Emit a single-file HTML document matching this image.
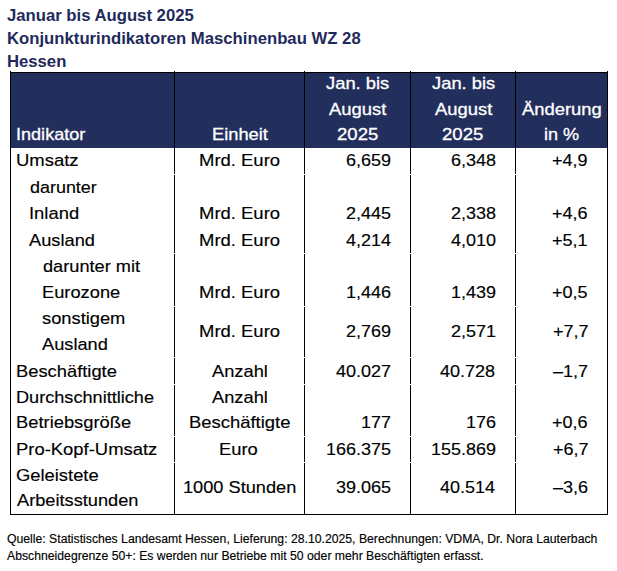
<!DOCTYPE html>
<html lang="de">
<head>
<meta charset="utf-8">
<title>Konjunkturindikatoren Maschinenbau WZ 28 Hessen</title>
<style>
html,body{margin:0;padding:0;background:#fff;}
body{width:617px;height:571px;position:relative;overflow:hidden;font-family:"Liberation Sans",sans-serif;color:#000;}
.x{position:absolute;white-space:nowrap;line-height:20px;transform-origin:0 0;}
.t{font-weight:bold;font-size:16px;color:#1f2a5c;}
.h{font-size:17px;color:#fff;-webkit-text-stroke:0.3px #fff;}
.c{font-size:17px;color:#000;-webkit-text-stroke:0.15px #000;}
.f{font-size:12px;color:#000;-webkit-text-stroke:0.15px #000;}
.hd{position:absolute;left:10px;top:72px;width:598px;height:76px;background:#222e5c;}
.vl{position:absolute;top:71px;width:1px;height:444px;background:#000;}
.hl{position:absolute;left:10px;width:598px;height:1px;background:#000;}
.g{position:absolute;left:11px;width:596px;height:1px;background:#fff;}

</style>
</head>
<body>
<div class="hd"></div>
<div class="vl" style="left:10px"></div>
<div class="vl" style="left:174px"></div>
<div class="vl" style="left:304px"></div>
<div class="vl" style="left:410px"></div>
<div class="vl" style="left:515px"></div>
<div class="vl" style="left:607px"></div>
<div class="g" style="top:174px"></div>
<div class="g" style="top:253px"></div>
<div class="g" style="top:306px"></div>
<div class="g" style="top:357px"></div>
<div class="g" style="top:384px"></div>
<div class="g" style="top:436px"></div>
<div class="g" style="top:462px"></div>
<div class="hl" style="top:72px"></div>
<div class="hl" style="top:514px"></div>
<div class="x t" id="i0" style="left:7.34px;top:6.00px;transform:scaleX(1.0430);">Januar bis August 2025</div>
<div class="x t" id="i1" style="left:6.86px;top:29.00px;transform:scaleX(1.0443);">Konjunkturindikatoren Maschinenbau WZ 28</div>
<div class="x t" id="i2" style="left:6.86px;top:52.00px;transform:scaleX(1.0424);">Hessen</div>
<div class="x h" id="i3" style="left:16.22px;top:125.00px;transform:scaleX(1.0627);">Indikator</div>
<div class="x h" id="i4" style="left:211.69px;top:125.00px;transform:scaleX(1.0757);">Einheit</div>
<div class="x h" id="i5" style="left:326.45px;top:74.00px;transform:scaleX(1.0799);">Jan. bis</div>
<div class="x h" id="i6" style="left:329.13px;top:100.00px;transform:scaleX(1.0829);">August</div>
<div class="x h" id="i7" style="left:336.98px;top:125.00px;transform:scaleX(1.0911);">2025</div>
<div class="x h" id="i8" style="left:431.95px;top:74.00px;transform:scaleX(1.0799);">Jan. bis</div>
<div class="x h" id="i9" style="left:434.63px;top:100.00px;transform:scaleX(1.0829);">August</div>
<div class="x h" id="i10" style="left:442.48px;top:125.00px;transform:scaleX(1.0911);">2025</div>
<div class="x h" id="i11" style="left:521.63px;top:100.00px;transform:scaleX(1.0816);">Änderung</div>
<div class="x h" id="i12" style="left:543.52px;top:125.00px;transform:scaleX(1.0638);">in %</div>
<div class="x c" id="i13" style="left:16.02px;top:151.00px;transform:scaleX(1.0866);">Umsatz</div>
<div class="x c" id="i14" style="left:29.81px;top:178.00px;transform:scaleX(1.0545);">darunter</div>
<div class="x c" id="i15" style="left:29.29px;top:204.00px;transform:scaleX(1.0829);">Inland</div>
<div class="x c" id="i16" style="left:29.33px;top:231.00px;transform:scaleX(1.0734);">Ausland</div>
<div class="x c" id="i17" style="left:42.60px;top:257.00px;transform:scaleX(1.0706);">darunter mit</div>
<div class="x c" id="i18" style="left:42.19px;top:283.00px;transform:scaleX(1.0746);">Eurozone</div>
<div class="x c" id="i19" style="left:41.88px;top:309.00px;transform:scaleX(1.0759);">sonstigem</div>
<div class="x c" id="i20" style="left:42.13px;top:335.00px;transform:scaleX(1.0718);">Ausland</div>
<div class="x c" id="i21" style="left:16.39px;top:362.00px;transform:scaleX(1.0781);">Beschäftigte</div>
<div class="x c" id="i22" style="left:16.40px;top:388.00px;transform:scaleX(1.0662);">Durchschnittliche</div>
<div class="x c" id="i23" style="left:16.38px;top:413.00px;transform:scaleX(1.0790);">Betriebsgröße</div>
<div class="x c" id="i24" style="left:16.38px;top:440.00px;transform:scaleX(1.0839);">Pro-Kopf-Umsatz</div>
<div class="x c" id="i25" style="left:16.18px;top:466.00px;transform:scaleX(1.0799);">Geleistete</div>
<div class="x c" id="i26" style="left:16.63px;top:491.00px;transform:scaleX(1.0714);">Arbeitsstunden</div>
<div class="x c" id="i27" style="left:199.08px;top:151.00px;transform:scaleX(1.0861);">Mrd. Euro</div>
<div class="x c" id="i28" style="left:199.08px;top:204.00px;transform:scaleX(1.0861);">Mrd. Euro</div>
<div class="x c" id="i29" style="left:199.08px;top:231.00px;transform:scaleX(1.0861);">Mrd. Euro</div>
<div class="x c" id="i30" style="left:199.08px;top:283.00px;transform:scaleX(1.0861);">Mrd. Euro</div>
<div class="x c" id="i31" style="left:199.08px;top:322.00px;transform:scaleX(1.0861);">Mrd. Euro</div>
<div class="x c" id="i32" style="left:211.83px;top:362.00px;transform:scaleX(1.0755);">Anzahl</div>
<div class="x c" id="i33" style="left:211.83px;top:388.00px;transform:scaleX(1.0755);">Anzahl</div>
<div class="x c" id="i34" style="left:188.58px;top:413.00px;transform:scaleX(1.0835);">Beschäftigte</div>
<div class="x c" id="i35" style="left:219.48px;top:440.00px;transform:scaleX(1.0799);">Euro</div>
<div class="x c" id="i36" style="left:183.24px;top:478.00px;transform:scaleX(1.0700);">1000 Stunden</div>
<div class="x c" id="i37" style="left:346.24px;top:151.00px;transform:scaleX(1.0600);">6,659</div>
<div class="x c" id="i38" style="left:450.71px;top:151.00px;transform:scaleX(1.0600);">6,348</div>
<div class="x c" id="i39" style="left:552.48px;top:151.00px;transform:scaleX(1.0600);">+4,9</div>
<div class="x c" id="i40" style="left:346.21px;top:204.00px;transform:scaleX(1.0600);">2,445</div>
<div class="x c" id="i41" style="left:450.71px;top:204.00px;transform:scaleX(1.0600);">2,338</div>
<div class="x c" id="i42" style="left:552.47px;top:204.00px;transform:scaleX(1.0600);">+4,6</div>
<div class="x c" id="i43" style="left:346.13px;top:231.00px;transform:scaleX(1.0600);">4,214</div>
<div class="x c" id="i44" style="left:450.69px;top:231.00px;transform:scaleX(1.0600);">4,010</div>
<div class="x c" id="i45" style="left:552.48px;top:231.00px;transform:scaleX(1.0600);">+5,1</div>
<div class="x c" id="i46" style="left:346.23px;top:283.00px;transform:scaleX(1.0600);">1,446</div>
<div class="x c" id="i47" style="left:450.74px;top:283.00px;transform:scaleX(1.0600);">1,439</div>
<div class="x c" id="i48" style="left:552.45px;top:283.00px;transform:scaleX(1.0600);">+0,5</div>
<div class="x c" id="i49" style="left:346.24px;top:322.00px;transform:scaleX(1.0600);">2,769</div>
<div class="x c" id="i50" style="left:450.74px;top:322.00px;transform:scaleX(1.0600);">2,571</div>
<div class="x c" id="i51" style="left:552.50px;top:322.00px;transform:scaleX(1.0600);">+7,7</div>
<div class="x c" id="i52" style="left:335.88px;top:362.00px;transform:scaleX(1.0600);">40.027</div>
<div class="x c" id="i53" style="left:440.34px;top:362.00px;transform:scaleX(1.0600);">40.728</div>
<div class="x c" id="i54" style="left:552.62px;top:362.00px;transform:scaleX(1.0600);">–1,7</div>
<div class="x c" id="i55" style="left:361.10px;top:413.00px;transform:scaleX(1.0600);">177</div>
<div class="x c" id="i56" style="left:465.57px;top:413.00px;transform:scaleX(1.0600);">176</div>
<div class="x c" id="i57" style="left:552.47px;top:413.00px;transform:scaleX(1.0600);">+0,6</div>
<div class="x c" id="i58" style="left:326.07px;top:440.00px;transform:scaleX(1.0600);">166.375</div>
<div class="x c" id="i59" style="left:430.60px;top:440.00px;transform:scaleX(1.0600);">155.869</div>
<div class="x c" id="i60" style="left:552.50px;top:440.00px;transform:scaleX(1.0600);">+6,7</div>
<div class="x c" id="i61" style="left:335.84px;top:478.00px;transform:scaleX(1.0600);">39.065</div>
<div class="x c" id="i62" style="left:440.23px;top:478.00px;transform:scaleX(1.0600);">40.514</div>
<div class="x c" id="i63" style="left:552.58px;top:478.00px;transform:scaleX(1.0600);">–3,6</div>
<div class="x f" id="i64" style="left:6.79px;top:529.00px;transform:scaleX(1.0184);">Quelle: Statistisches Landesamt Hessen, Lieferung: 28.10.2025, Berechnungen: VDMA, Dr. Nora Lauterbach</div>
<div class="x f" id="i65" style="left:6.94px;top:546.00px;transform:scaleX(1.0186);">Abschneidegrenze 50+: Es werden nur Betriebe mit 50 oder mehr Beschäftigten erfasst.</div>
</body>
</html>
